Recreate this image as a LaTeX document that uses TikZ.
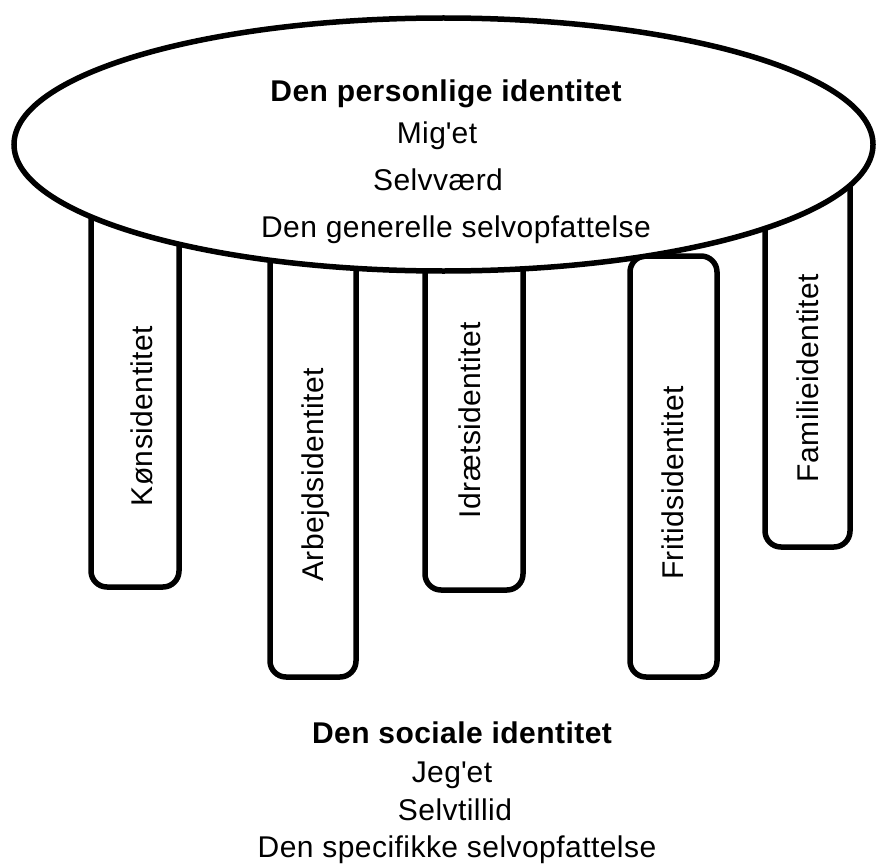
\documentclass[tikz,border=0pt]{standalone}
\usepackage{fontspec}
\setmainfont{Liberation Sans}[LetterSpace=1.5]
\begin{document}
\begin{tikzpicture}[x=1pt,y=-1pt,
  pillar/.style={draw=black, line width=5.5pt, fill=white, rounded corners=16pt},
  disc/.style={draw=black, line width=5.5pt, fill=white},
  txt/.style={inner sep=0pt, anchor=base, font=\fontsize{30}{36}\selectfont},
  btxt/.style={txt, font=\fontsize{30}{36}\selectfont\bfseries},
  vtxt/.style={txt, rotate=90}]
\useasboundingbox (0,0) rectangle (877,864);
% pillars
\draw[pillar] (91,150) rectangle (179,587);
\draw[pillar] (270,150) rectangle (356,677);
\draw[pillar] (425,150) rectangle (523,590);
\draw[pillar] (630,256) rectangle (717,677);
\draw[pillar] (765,150) rectangle (850,547);
% table top
\draw[disc] (443.5,144.5) ellipse [x radius=429.5, y radius=126.5];
% top texts
\node[btxt] (p1) at (446,102) {Den personlige identitet};
\node[txt] (p2) at (437,143) {Mig\textquotesingle et};
\node[txt] (p3) at (438,190) {Selvværd};
\node[txt] (p4) at (456,237) {Den generelle selvopfattelse};
% pillar labels
\node[vtxt] (l1) at (152,416) {Kønsidentitet};
\node[vtxt] (l2) at (323,475) {Arbejdsidentitet};
\node[vtxt] (l3) at (480,420) {Idrætsidentitet};
\node[vtxt] (l4) at (683,483) {Fritidsidentitet};
\node[vtxt] (l5) at (818,378) {Familieidentitet};
% bottom texts
\node[btxt] (s1) at (462,743) {Den sociale identitet};
\node[txt] (s2) at (452,782) {Jeg\textquotesingle et};
\node[txt] (s3) at (455,820) {Selvtillid};
\node[txt] (s4) at (457,857) {Den specifikke selvopfattelse};
\end{tikzpicture}
\end{document}
